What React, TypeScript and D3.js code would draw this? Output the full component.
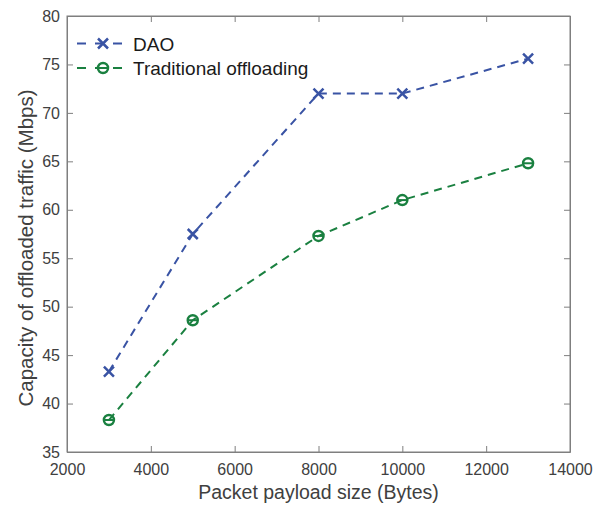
import React, { useEffect, useRef } from "react";
import * as d3 from "d3";

const payload = [3000, 5000, 8000, 10000, 13000];
const daoValues = [43.3, 57.5, 72.0, 72.0, 75.6];
const tradValues = [38.3, 48.6, 57.3, 61.0, 64.8];
const xTicks = [2000, 4000, 6000, 8000, 10000, 12000, 14000];
const yTicks = [35, 40, 45, 50, 55, 60, 65, 70, 75, 80];

const W = 602;
const H = 506;
const margin = { top: 16, left: 67, right: 32, bottom: 54 };

export default function App() {
  const ref = useRef<SVGSVGElement>(null);

  useEffect(() => {
    const svg = d3.select(ref.current);
    svg.selectAll("*").remove();
    const iw = W - margin.left - margin.right;
    const ih = H - margin.top - margin.bottom;
    const font = "'Liberation Sans', Arial, sans-serif";
    const axisColor = "#7f7f7f";
    const textColor = "#404040";

    const x = d3.scaleLinear().domain([2000, 14000]).range([0, iw]);
    const y = d3.scaleLinear().domain([35, 80]).range([ih, 0]);

    const g = svg.append("g").attr("transform", `translate(${margin.left},${margin.top})`);

    // box
    g.append("rect")
      .attr("width", iw)
      .attr("height", ih)
      .attr("fill", "none")
      .attr("stroke", axisColor)
      .attr("stroke-width", 1);

    const tk = 6;
    const xb = g.append("g").attr("transform", `translate(0,${ih})`)
      .call(d3.axisBottom(x).tickValues(xTicks).tickSize(-tk).tickPadding(12).tickSizeOuter(0).tickFormat(d3.format("d")));
    const xt = g.append("g")
      .call(d3.axisTop(x).tickValues(xTicks).tickSize(-tk).tickFormat(() => "").tickSizeOuter(0));
    const yl = g.append("g")
      .call(d3.axisLeft(y).tickValues(yTicks).tickSize(-tk).tickPadding(7).tickSizeOuter(0));
    const yr = g.append("g").attr("transform", `translate(${iw},0)`)
      .call(d3.axisRight(y).tickValues(yTicks).tickSize(-tk).tickFormat(() => "").tickSizeOuter(0));

    [xb, xt, yl, yr].forEach((a) => {
      a.select(".domain").attr("stroke", axisColor);
      a.selectAll(".tick line").attr("stroke", axisColor);
      a.selectAll("text").attr("fill", textColor).attr("font-size", 16).attr("font-family", font);
    });

    const series = [
      { name: "DAO", values: daoValues, color: "#3953a4", marker: "x" },
      { name: "Traditional offloading", values: tradValues, color: "#1a8040", marker: "o" },
    ];

    const line = d3.line<number>()
      .x((_, i) => x(payload[i]))
      .y((d) => y(d));

    const drawMarker = (sel: any, cx: number, cy: number, s: any) => {
      const r = 5;
      if (s.marker === "x") {
        sel.append("path")
          .attr("d", `M${cx - r},${cy - r}L${cx + r},${cy + r}M${cx - r},${cy + r}L${cx + r},${cy - r}`)
          .attr("stroke", s.color).attr("stroke-width", 2.5).attr("fill", "none");
      } else {
        sel.append("circle").attr("cx", cx).attr("cy", cy).attr("r", r)
          .attr("stroke", s.color).attr("stroke-width", 2.5).attr("fill", "none");
        sel.append("path")
          .attr("d", `M${cx - r},${cy}L${cx + r},${cy}`)
          .attr("stroke", s.color).attr("stroke-width", 2).attr("fill", "none");
      }
    };

    series.forEach((s) => {
      g.append("path")
        .datum(s.values)
        .attr("d", line)
        .attr("fill", "none")
        .attr("stroke", s.color)
        .attr("stroke-width", 2)
        .attr("stroke-dasharray", "8,6");
      s.values.forEach((v, i) => drawMarker(g, x(payload[i]), y(v), s));
    });

    // legend
    const lg = svg.append("g");
    series.forEach((s, i) => {
      const ly = 43.5 + i * 24.5;
      lg.append("line").attr("x1", 77).attr("x2", 127).attr("y1", ly).attr("y2", ly)
        .attr("stroke", s.color).attr("stroke-width", 2).attr("stroke-dasharray", "9,9");
      drawMarker(lg, 103, ly, s);
      lg.append("text").attr("x", 133).attr("y", ly + 7)
        .attr("font-family", font).attr("font-size", 19).attr("fill", "#1a1a1a").text(s.name);
    });

    svg.append("text")
      .attr("x", margin.left + iw / 2).attr("y", 499)
      .attr("text-anchor", "middle").attr("font-family", font).attr("font-size", 19.5)
      .attr("fill", textColor).text("Packet payload size (Bytes)");

    svg.append("text")
      .attr("transform", `translate(33,248) rotate(-90)`)
      .attr("text-anchor", "middle").attr("font-family", font).attr("font-size", 20.5)
      .attr("fill", textColor).text("Capacity of offloaded traffic (Mbps)");
  }, []);

  return (
    <svg
      ref={ref}
      width={W}
      height={H}
      style={{ position: "absolute", left: 0, top: 0, display: "block", overflow: "visible" }}
    />
  );
}
